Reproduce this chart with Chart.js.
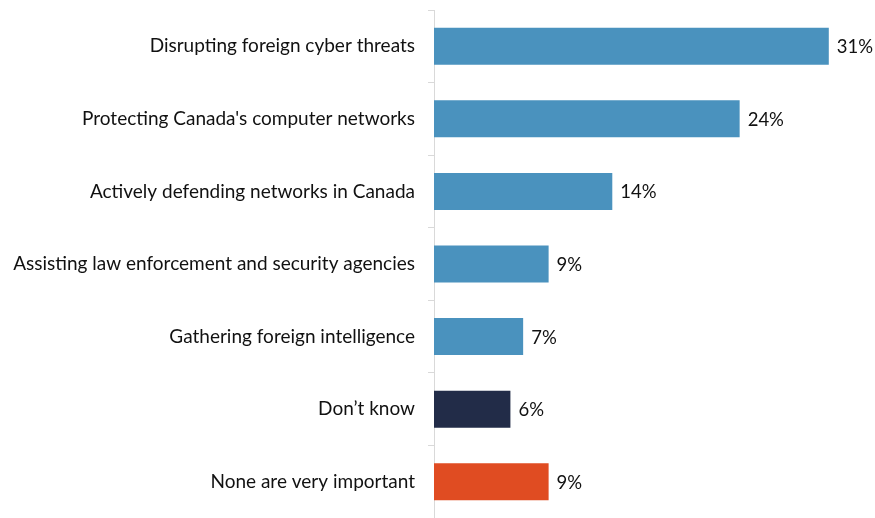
<!DOCTYPE html>
<html>
<head>
<meta charset="utf-8">
<script src="https://cdn.jsdelivr.net/npm/chart.js@4.4.0/dist/chart.umd.min.js"></script>
<style>
  html, body { margin: 0; padding: 0; background: #fff; }
  canvas { display: block; }
</style>
</head>
<body>
<canvas id="priorityChart" width="875" height="518"></canvas>
<script>
const categories = [
    "Disrupting foreign cyber threats",
    "Protecting Canada's computer networks",
    "Actively defending networks in Canada",
    "Assisting law enforcement and security agencies",
    "Gathering foreign intelligence",
    "Don\u2019t know",
    "None are very important"
];
const percentValues = [31, 24, 14, 9, 7, 6, 9];
const barColors = [
    "#4A92BE", "#4A92BE", "#4A92BE", "#4A92BE", "#4A92BE",
    "#222C48", "#E04C22"
];

const labelFont = "Lato, 'Open Sans', sans-serif";

// writes "NN%" just past the end of each bar
const valueLabels = {
    id: "valueLabels",
    afterDatasetsDraw(chart) {
        const ctx = chart.ctx;
        const meta = chart.getDatasetMeta(0);
        ctx.save();
        ctx.font = "18.5px " + labelFont;
        ctx.fillStyle = "#111";
        ctx.textAlign = "left";
        ctx.textBaseline = "middle";
        meta.data.forEach((bar, i) => {
            ctx.fillText(percentValues[i] + "%", bar.x + 8, bar.y + 1);
        });
        ctx.restore();
    }
};

new Chart(document.getElementById("priorityChart"), {
    type: "bar",
    data: {
        labels: categories,
        datasets: [{
            data: percentValues,
            backgroundColor: barColors,
            borderWidth: 0,
            categoryPercentage: 0.51,
            barPercentage: 1
        }]
    },
    options: {
        responsive: false,
        indexAxis: "y",
        animation: false,
        layout: { padding: { top: 10, right: 8, bottom: 0, left: 0 } },
        plugins: {
            legend: { display: false },
            tooltip: { enabled: false }
        },
        scales: {
            x: {
                display: false,
                min: 0,
                max: 34
            },
            y: {
                afterFit(scale) {
                    // fixed label column; axis runs the full height
                    scale.width = 434;
                    scale.paddingTop = 0;
                    scale.paddingBottom = 0;
                },
                border: { display: true, color: "#D9D9D9", width: 1 },
                grid: {
                    offset: true,
                    drawOnChartArea: false,
                    drawTicks: true,
                    tickLength: 6,
                    color: "#D9D9D9"
                },
                ticks: {
                    color: "#111",
                    padding: 13,
                    font: { family: labelFont, size: 19 }
                }
            }
        }
    },
    plugins: [valueLabels]
});
</script>
</body>
</html>
